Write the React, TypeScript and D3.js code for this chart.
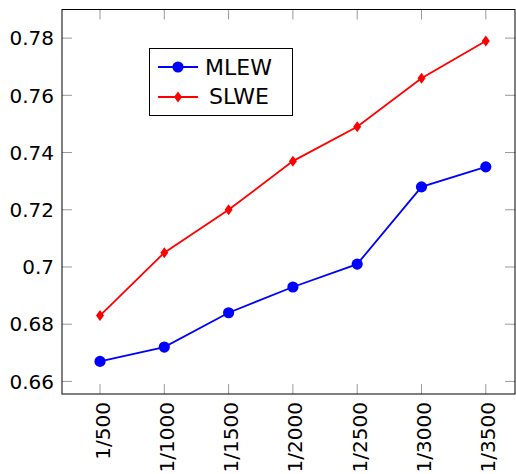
import React from "react";
import * as d3 from "d3";

const categories = ["1/500", "1/1000", "1/1500", "1/2000", "1/2500", "1/3000", "1/3500"];
const mlew = [0.667, 0.672, 0.684, 0.693, 0.701, 0.728, 0.735];
const slwe = [0.683, 0.705, 0.72, 0.737, 0.749, 0.766, 0.779];
const yTicks = [0.66, 0.68, 0.7, 0.72, 0.74, 0.76, 0.78];

const W = 516;
const H = 474;
const left = 62;
const right = 515;
const top = 9.5;
const bottom = 394;
const font = "'DejaVu Sans', sans-serif";

export default function App() {
  const x = d3.scalePoint<string>().domain(categories).range([100, 485.8]);
  const y = d3.scaleLinear().domain([0.6556, 0.79]).range([bottom, top]);

  const line = d3
    .line<number>()
    .x((_, i) => x(categories[i]) as number)
    .y((d) => y(d));

  const diamond = (cx: number, cy: number) =>
    `M${cx},${cy - 5.5} L${cx + 4},${cy} L${cx},${cy + 5.5} L${cx - 4},${cy} Z`;

  const tickLen = 10;
  const tickColor = "#999";
  const tickStyle = { fontFamily: font, fontSize: "20px" };
  const legendStyle = { fontFamily: font, fontSize: "22px" };

  return (
    <svg
      width={W}
      height={H}
      style={{ position: "absolute", left: 0, top: 0, fontFamily: font }}
    >
      <rect width={W} height={H} fill="white" />
      {/* ticks on all four sides */}
      {yTicks.map((t) => (
        <g key={t}>
          <line x1={left} x2={left + tickLen} y1={y(t)} y2={y(t)} stroke={tickColor} />
          <line x1={right} x2={right - tickLen} y1={y(t)} y2={y(t)} stroke={tickColor} />
          <text x={54} y={y(t)} dy="0.36em" textAnchor="end" style={tickStyle}>
            {String(t)}
          </text>
        </g>
      ))}
      {categories.map((c) => (
        <g key={c}>
          <line x1={x(c)} x2={x(c)} y1={bottom} y2={bottom - tickLen} stroke={tickColor} />
          <line x1={x(c)} x2={x(c)} y1={top} y2={top + tickLen} stroke={tickColor} />
          <text
            transform={`translate(${(x(c) as number) + 9.5},${bottom + 8}) rotate(-90)`}
            textAnchor="end"
            style={tickStyle}
          >
            {c}
          </text>
        </g>
      ))}
      <rect
        x={left}
        y={top}
        width={right - left}
        height={bottom - top}
        fill="none"
        stroke="black"
        strokeWidth={1}
      />
      {/* MLEW series */}
      <path d={line(mlew) as string} fill="none" stroke="#0000ff" strokeWidth={1.8} />
      {mlew.map((v, i) => (
        <circle key={i} cx={x(categories[i])} cy={y(v)} r={5.6} fill="#0000ff" />
      ))}
      {/* SLWE series */}
      <path d={line(slwe) as string} fill="none" stroke="#ff0000" strokeWidth={1.8} />
      {slwe.map((v, i) => (
        <path key={i} d={diamond(x(categories[i]) as number, y(v))} fill="#ff0000" />
      ))}
      {/* legend */}
      <g>
        <rect x={149.5} y={48.5} width={143} height={67} fill="white" stroke="black" />
        <line x1={158} x2={198} y1={67} y2={67} stroke="#0000ff" strokeWidth={1.8} />
        <circle cx={178} cy={67} r={5.6} fill="#0000ff" />
        <text x={205} y={67} dy="0.36em" style={legendStyle}>
          MLEW
        </text>
        <line x1={158} x2={198} y1={97} y2={97} stroke="#ff0000" strokeWidth={1.8} />
        <path d={diamond(178, 97)} fill="#ff0000" />
        <text x={209} y={96} dy="0.36em" style={legendStyle}>
          SLWE
        </text>
      </g>
    </svg>
  );
}
